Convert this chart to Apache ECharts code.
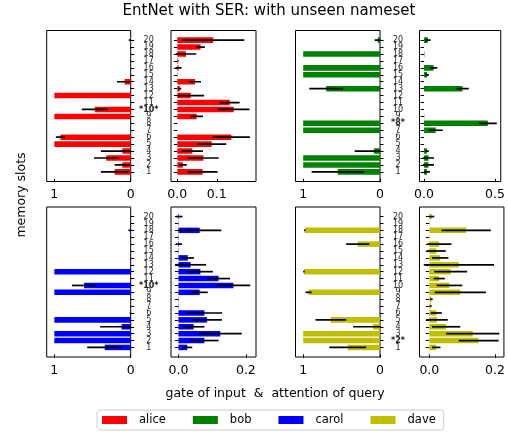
<!DOCTYPE html>
<html>
<head>
<meta charset="utf-8">
<script src="https://cdn.jsdelivr.net/npm/echarts@6/dist/echarts.min.js"></script>
<style>html,body{margin:0;padding:0;background:#fff}#main{width:508px;height:433px}</style>
</head>
<body>
<div id="main"></div>
<script>
/*数据 - memory slots 1..20*/
const slots = [1,2,3,4,5,6,7,8,9,10,11,12,13,14,15,16,17,18,19,20];
const names = ['alice','bob','carol','dave'];

const aliceGate    = [0.21,0.11,0.32,0.11,1.00,0.92,0,0,1.00,0.47,0,1.00,0,0.08,0,0,0,0,0,0.005];
const aliceGateErr = [0.18,0.10,0.16,0.28,0,0.06,0,0,0,0.17,0,0,0,0.10,0,0,0,0,0,0.02];
const aliceAttn    = [0.064,0.014,0.066,0.038,0.087,0.137,0,0,0.049,0.143,0.133,0.034,0.006,0.045,0.001,0.003,0.002,0.022,0.059,0.091];
const aliceAttnErr = [0.038,0.010,0.039,0.027,0.037,0.047,0,0,0.016,0.040,0.025,0.034,0.004,0.015,0,0.008,0.001,0.026,0.011,0.079];

const bobGate    = [0.55,1.00,1.00,0.08,0,0,1.00,1.00,0,0,0,0,0.70,0,1.00,1.00,0,1.00,0,0.03];
const bobGateErr = [0.34,0,0,0.25,0,0,0,0,0,0,0,0,0.22,0,0,0,0,0,0,0.04];
const bobAttn    = [0.020,0.031,0.031,0.020,0,0,0.082,0.449,0.002,0,0,0,0.271,0,0.022,0.067,0,0.003,0,0.027];
const bobAttnErr = [0.021,0.039,0.039,0.013,0,0,0.050,0.063,0,0,0,0,0.044,0,0.012,0.026,0,0,0,0.019];

const carolGate    = [0.34,1.00,1.00,0.12,1.00,0.005,0,0,1.00,0.61,0,1.00,0,0,0,0,0,0.01,0,0];
const carolGateErr = [0.23,0,0,0.28,0,0.01,0,0,0,0.16,0,0,0,0,0,0,0,0.02,0,0];
const carolAttn    = [0.026,0.077,0.124,0.045,0.085,0.077,0.001,0.001,0.063,0.163,0.119,0.065,0.036,0.028,0.001,0.002,0.001,0.063,0.001,0.002];
const carolAttnErr = [0.015,0.042,0.064,0.032,0.044,0.053,0,0,0.024,0.050,0.034,0.037,0.046,0.018,0,0.009,0,0.064,0,0.010];

const daveGate    = [0.42,1.00,1.00,0.09,0.64,0,0,0,0.93,0,0,0.99,0,0,0,0.29,0,0.98,0,0];
const daveGateErr = [0.24,0,0,0.26,0.20,0,0,0,0.04,0,0,0.01,0,0,0,0.15,0,0.01,0,0];
const daveAttn    = [0.021,0.150,0.132,0.051,0.023,0.021,0.004,0.006,0.094,0.061,0.030,0.065,0.090,0.033,0.021,0.030,0.001,0.112,0.001,0.007];
const daveAttnErr = [0.013,0.061,0.081,0.043,0.033,0.017,0.003,0.004,0.078,0.039,0.017,0.050,0.107,0.025,0.029,0.037,0,0.075,0,0.008];

/*刻度*/
const gateTicks = [0, 1];
const attnTicks = {alice:[0, 0.1], bob:[0, 0.5], carol:[0, 0.2], dave:[0, 0.2]};
const markSlot = {alice:10, bob:8, carol:10, dave:2};

const colors = {alice:'#ff0000', bob:'#008000', carol:'#0000ff', dave:'#bfbf00'};
const values = {
    alice:[aliceGate, aliceGateErr, aliceAttn, aliceAttnErr],
    bob:[bobGate, bobGateErr, bobAttn, bobAttnErr],
    carol:[carolGate, carolGateErr, carolAttn, carolAttnErr],
    dave:[daveGate, daveGateErr, daveAttn, daveAttnErr]
};

/*布局*/
const rows = {alice:[30.5,151], bob:[30.5,151], carol:[207,150], dave:[207,150]};
const cols = {
    alice:[[46.7,84],[171,85]], carol:[[46.7,84],[171,85]],
    bob:[[295.5,84.5],[419.5,86]], dave:[[295.5,84.5],[419.5,86]]
};
const attnRange = {alice:[-0.016,0.1995], bob:[-0.032,0.54], carol:[-0.022,0.23], dave:[-0.03,0.227]};

const FONT = 'DejaVu Sans';

/*柱 + 误差线*/
function renderItem(params, api) {
    const y = api.value(0), m = api.value(1), s = api.value(2);
    const color = api.visual('color');
    const children = [];
    if (m > 0) {
        const a = api.coord([0, y - 0.4]);
        const b = api.coord([m, y + 0.4]);
        children.push({
            type:'rect',
            shape:{x:Math.min(a[0],b[0]), y:Math.min(a[1],b[1]), width:Math.abs(b[0]-a[0]), height:Math.abs(b[1]-a[1])},
            style:{fill:color}
        });
    }
    if (s > 0) {
        const p = api.coord([m - s, y]);
        const q = api.coord([m + s, y]);
        children.push({
            type:'line',
            shape:{x1:p[0], y1:p[1], x2:q[0], y2:q[1]},
            style:{stroke:'#000', lineWidth:1.7}
        });
    }
    return {type:'group', children};
}

/*slot 标签 (两图之间)*/
function labelRenderer(mark) {
    return function (params, api) {
        const y = api.value(0);
        const p = api.coord([0, y]);
        const bold = y === mark;
        return {
            type:'text', x:p[0] + 18, y:p[1],
            style:{
                text: bold ? '*' + y + '*' : String(y),
                textAlign:'center', textVerticalAlign:'middle',
                font:(bold ? 'bold ' : '') + '8px "DejaVu Sans"', fill:'#222'
            }
        };
    };
}

const grid = [], xAxis = [], yAxis = [], series = [];
names.forEach(name => {
    const [gm, ge, am, ae] = values[name];
    [0, 1].forEach(k => {
        const idx = grid.length;
        const [left, width] = cols[name][k];
        const [top, height] = rows[name];
        grid.push({left, top, width, height, show:true, borderColor:'#000', borderWidth:1, backgroundColor:'transparent'});
        const ticks = k === 0 ? gateTicks : attnTicks[name];
        xAxis.push({
            type:'value', gridIndex:idx,
            min: k === 0 ? 0 : attnRange[name][0],
            max: k === 0 ? 1.1 : attnRange[name][1],
            inverse: k === 0,
            axisLine:{show:false},
            splitLine:{show:false},
            axisTick:{show:true, length:3.5, customValues:ticks, lineStyle:{color:'#000'}},
            axisLabel:{
                customValues:ticks, margin:7, fontSize:12.5, color:'#000', fontFamily:FONT,
                showMinLabel:true, showMaxLabel:true,
                formatter: v => k === 0 ? String(Math.round(v)) : v.toFixed(1)
            }
        });
        yAxis.push({
            type:'value', gridIndex:idx, min:-0.39, max:21.39,
            position: k === 0 ? 'right' : 'left',
            axisLine:{show:false},
            splitLine:{show:false},
            axisTick:{show:true, length:3.5, customValues:slots, lineStyle:{color:'#000'}},
            axisLabel:{show:false}
        });
        const mean = k === 0 ? gm : am;
        const err = k === 0 ? ge : ae;
        series.push({
            type:'custom', name, xAxisIndex:idx, yAxisIndex:idx, clip:true,
            itemStyle:{color:colors[name]},
            renderItem,
            encode:{x:1, y:0},
            data: slots.map((s, i) => [s, mean[i], err[i]])
        });
        if (k === 0) {
            series.push({
                type:'custom', name:name + '-slots', xAxisIndex:idx, yAxisIndex:idx, clip:false, silent:true,
                renderItem: labelRenderer(markSlot[name]),
                encode:{x:1, y:0},
                data: slots.map(s => [s, 0])
            });
        }
    });
});

const chart = echarts.init(document.getElementById('main'), null, {renderer:'canvas'});
chart.setOption({
    animation:false,
    backgroundColor:'#fff',
    textStyle:{fontFamily:FONT},
    grid, xAxis, yAxis, series,
    legend:{
        left:97, top:410, icon:'rect', itemWidth:25, itemHeight:8, itemGap:27,
        padding:[4,8,4,5], borderColor:'#ccc', borderWidth:1, borderRadius:3,
        textStyle:{fontSize:11.5, color:'#000', fontFamily:FONT, padding:[0,0,0,7]},
        data: names.map(n => ({name:n, itemStyle:{color:colors[n]}}))
    },
    graphic:[
        {type:'text', x:269, y:11, style:{text:'EntNet with SER: with unseen nameset', font:'15px "DejaVu Sans"', fill:'#000', textAlign:'center', textVerticalAlign:'middle'}},
        {type:'text', x:275, y:394, style:{text:'gate of input  &  attention of query', font:'12.5px "DejaVu Sans"', fill:'#000', textAlign:'center', textVerticalAlign:'middle'}},
        {type:'text', x:21.7, y:195, rotation:Math.PI/2, style:{text:'memory slots', font:'12.5px "DejaVu Sans"', fill:'#000', textAlign:'center', textVerticalAlign:'middle'}}
    ]
});
</script>
</body>
</html>
